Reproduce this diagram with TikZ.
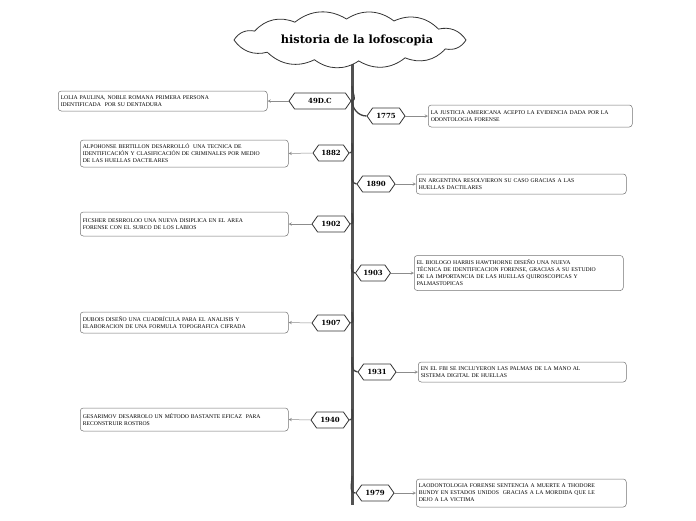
\documentclass[tikz,border=0pt]{standalone}
\usepackage{fontspec}
\setmainfont{Liberation Serif}
\newfontfamily\datefont{DejaVu Serif}
\usetikzlibrary{shapes.symbols,arrows}
\tikzset{>=stealth}
\tikzset{
  datehex/.style={signal, signal to=west and east, signal pointer angle=110,
    draw=black!80, line width=0.8pt, fill=white, inner sep=1.5pt,
    minimum height=16pt, minimum width=38pt, font=\datefont\bfseries\fontsize{7}{8}\selectfont},
  infobox/.style={draw=black!55, line width=0.5pt, rounded corners=3pt, fill=white,
    align=left, inner sep=2.5pt, font=\fontsize{5.7}{7}\selectfont},
  branch/.style={draw=black!75, line width=1.3pt},
  pointer/.style={->, draw=black!45, line width=0.5pt}
}
\begin{document}
\begin{tikzpicture}[x=1pt, y=-1pt]
\useasboundingbox (0,0) rectangle (696,520);
% spine
\draw[black!68, line width=3pt] (352,55) -- (352,505);
% title cloud
\draw[shift={(350,40)}, draw=black!80, line width=0.8pt, fill=white]
  (0:116 and 19) to[bend left=35] (28:108 and 19) to[bend left=35] (58:104 and 21)
  to[bend left=35] (85:100 and 21) to[bend left=35] (110:104 and 21)
  to[bend left=35] (140:108 and 19) to[bend left=35] (180:116 and 19)
  to[bend left=35] (208:108 and 19) to[bend left=35] (238:104 and 21)
  to[bend left=35] (268:100 and 21) to[bend left=35] (295:104 and 21)
  to[bend left=35] (325:108 and 19) to[bend left=35] cycle;
\node[font=\datefont\bfseries\fontsize{11.3}{13}\selectfont] (title) at (357,40) {historia de la lofoscopia};
% dates
\node[datehex, minimum width=62pt] (h49) at (320,101) {49D.C};
\node[datehex] (h1775) at (386,116) {1775};
\node[datehex, minimum width=36pt] (h1882) at (331,153) {1882};
\node[datehex] (h1890) at (376,184) {1890};
\node[datehex] (h1902) at (331,224) {1902};
\node[datehex, minimum width=35pt] (h1903) at (373,273) {1903};
\node[datehex] (h1907) at (331,323) {1907};
\node[datehex] (h1931) at (377,372) {1931};
\node[datehex] (h1940) at (330,420) {1940};
\node[datehex] (h1979) at (375,493) {1979};
% spine points
\coordinate (s49) at (352,86);
\coordinate (s1775) at (352,100);
\coordinate (s1882) at (352,143);
\coordinate (s1890) at (352,170);
\coordinate (s1902) at (352,213);
\coordinate (s1903) at (352,259);
\coordinate (s1907) at (352,312);
\coordinate (s1931) at (352,357);
\coordinate (s1940) at (352,409);
\coordinate (s1979) at (352,476);
\draw[branch] (s49) to[out=-90, in=0] (h49.east);
\draw[branch] (s1775) to[out=-90, in=180] (h1775.west);
\draw[branch] (s1882) to[out=-90, in=0] (h1882.east);
\draw[branch] (s1890) to[out=-90, in=180] (h1890.west);
\draw[branch] (s1902) to[out=-90, in=0] (h1902.east);
\draw[branch] (s1903) to[out=-90, in=180] (h1903.west);
\draw[branch] (s1907) to[out=-90, in=0] (h1907.east);
\draw[branch] (s1931) to[out=-90, in=180] (h1931.west);
\draw[branch] (s1940) to[out=-90, in=0] (h1940.east);
\draw[branch] (s1979) to[out=-90, in=180] (h1979.west);
% boxes
\node[infobox, anchor=west, text width=204pt, minimum height=20pt] (b49) at (58,101)
  {LOLIA PAULINA, NOBLE ROMANA PRIMERA PERSONA\\ IDENTIFICADA\ \ POR SU DENTADURA};
\node[infobox, anchor=west, text width=199pt, minimum height=22pt] (b1775) at (428,116)
  {LA JUSTICIA AMERICANA ACEPTO LA EVIDENCIA DADA POR LA\\ ODONTOLOGIA FORENSE};
\node[infobox, anchor=west, text width=203pt, minimum height=27pt] (b1882) at (80,153.5)
  {ALPOHONSE BERTILLON DESARROLL\'O\ \ UNA TECNICA DE\\ IDENTIFICACI\'ON Y CLASIFICACI\'ON DE CRIMINALES POR MEDIO\\ DE LAS HUELLAS DACTILARES};
\node[infobox, anchor=west, text width=205pt, minimum height=20pt] (b1890) at (416,184)
  {EN ARGENTINA RESOLVIERON SU CASO GRACIAS A LAS\\ HUELLAS DACTILARES};
\node[infobox, anchor=west, text width=203pt, minimum height=24pt] (b1902) at (80,224)
  {FICSHER DESRROLOO UNA NUEVA DISIPLICA EN EL AREA\\ FORENSE CON EL SURCO DE LOS LABIOS};
\node[infobox, anchor=west, text width=204pt, minimum height=35pt] (b1903) at (414,273)
  {EL BIOLOGO HARRIS HAWTHORNE DISE\~NO UNA NUEVA\\ T\'ECNICA DE IDENTIFICACION FORENSE, GRACIAS A SU ESTUDIO\\ DE LA IMPORTANCIA DE LAS HUELLAS QUIROSCOPICAS Y\\ PALMASTOPICAS};
\node[infobox, anchor=west, text width=203pt, minimum height=21pt] (b1907) at (80,322.5)
  {DUBOIS DISE\~NO UNA CUADR\'ICULA PARA EL ANALISIS Y\\ ELABORACION DE UNA FORMULA TOPOGRAFICA CIFRADA};
\node[infobox, anchor=west, text width=203pt, minimum height=20pt] (b1931) at (418,372)
  {EN EL FBI SE INCLUYERON LAS PALMAS DE LA MANO AL\\ SISTEMA DIGITAL DE HUELLAS};
\node[infobox, anchor=west, text width=203pt, minimum height=23pt] (b1940) at (80,419.5)
  {GESARIMOV DESARROLO UN M\'ETODO BASTANTE EFICAZ\ \ PARA\\ RECONSTRUIR ROSTROS};
\node[infobox, anchor=west, text width=205pt, minimum height=28pt] (b1979) at (416,493)
  {LAODONTOLOGIA FORENSE SENTENCIA A MUERTE A THODORE\\ BUNDY EN ESTADOS UNIDOS\ \ GRACIAS A LA MORDIDA QUE LE\\ DEJO A LA VICTIMA};
% pointers
\draw[pointer] (h49.west) -- (b49.east);
\draw[pointer] (h1775.east) -- (b1775.west);
\draw[pointer] (h1882.west) -- (b1882.east);
\draw[pointer] (h1890.east) -- (b1890.west);
\draw[pointer] (h1902.west) -- (b1902.east);
\draw[pointer] (h1903.east) -- (b1903.west);
\draw[pointer] (h1907.west) -- (b1907.east);
\draw[pointer] (h1931.east) -- (b1931.west);
\draw[pointer] (h1940.west) -- (b1940.east);
\draw[pointer] (h1979.east) -- (b1979.west);
\end{tikzpicture}
\end{document}
